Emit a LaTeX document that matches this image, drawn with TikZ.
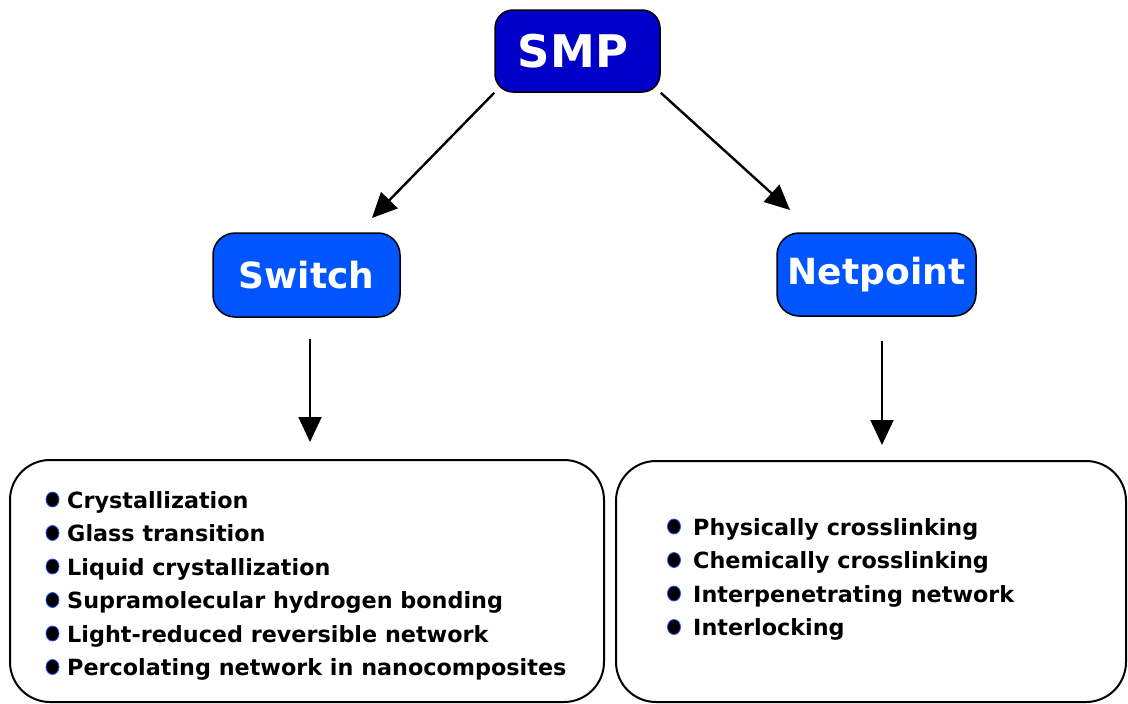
\documentclass[tikz,border=0pt]{standalone}
\usepackage{fontspec}
\setmainfont{DejaVu Sans}
\usetikzlibrary{arrows.meta,calc,positioning}
\definecolor{smpblue}{RGB}{0,0,200}
\definecolor{headblue}{RGB}{0,85,255}
\definecolor{rimblue}{RGB}{40,80,255}

\begin{document}
\begin{tikzpicture}[x=1pt, y=-1pt,
    head/.style={rectangle, draw=black, line width=1.5pt, fill=headblue, text=white,
                 font=\bfseries\fontsize{36}{40}\selectfont, rounded corners=22pt, inner sep=0pt},
    listbox/.style={rectangle, draw=black, line width=2pt, rounded corners=40pt},
    item/.style={anchor=base west, inner sep=0pt, font=\bfseries\fontsize{22.3}{26}\selectfont},
    bulletdot/.style={fill=black, draw=rimblue, line width=0.8pt},
    arr/.style={-{Triangle[length=25pt, width=23pt]}, line width=2.4pt}
  ]
    \useasboundingbox (0,0) rectangle (1128,704);

    \node[head, fill=smpblue, minimum width=165pt, minimum height=82pt, rounded corners=18pt,
          font=\bfseries\fontsize{45}{50}\selectfont] (smp) at (577.5,51) {\hspace*{-9pt}SMP};
    \node[head, minimum width=187pt, minimum height=84pt] (switch) at (306.5,275) {Switch};
    \node[head, minimum width=199pt, minimum height=83pt] (netpoint) at (876.5,274.5) {Netpoint};

    \node[listbox, minimum width=594pt, minimum height=242pt] (leftbox) at (307,581) {};
    \node[listbox, minimum width=510pt, minimum height=241pt] (rightbox) at (871,581.5) {};

    % switch mechanisms
    \foreach \t [count=\i] in {Crystallization, Glass transition, Liquid crystallization,
        Supramolecular hydrogen bonding, Light-reduced reversible network,
        Percolating network in nanocomposites}{
      \node[item] (sw\i) at (67, 474.5+33.5*\i) {\t};
      \filldraw[bulletdot] ($(sw\i.base west)+(-14.5,-8.5)$) circle[x radius=6.5pt, y radius=7.5pt];
    }

    % netpoint types
    \foreach \t [count=\i] in {Physically crosslinking, Chemically crosslinking,
        Interpenetrating network, Interlocking}{
      \node[item] (np\i) at (693, 501.5+33.5*\i) {\t};
      \filldraw[bulletdot] ($(np\i.base west)+(-19,-8.5)$) circle[x radius=6.5pt, y radius=7.5pt];
    }

    \coordinate (swtip) at (372,218);
    \coordinate (nptip) at (790,210);

    \draw[arr] (smp.south west) -- (swtip);
    \draw[arr] (smp.south east) -- (nptip);
    \draw[arr, line width=2pt, shorten <=21pt, shorten >=17pt] ([xshift=3.5pt]switch.south) -- ([xshift=3.5pt]switch.south |- leftbox.north);
    \draw[arr, line width=2pt, shorten <=24pt, shorten >=15pt] ([xshift=5.5pt]netpoint.south) -- ([xshift=5.5pt]netpoint.south |- rightbox.north);
\end{tikzpicture}
\end{document}
